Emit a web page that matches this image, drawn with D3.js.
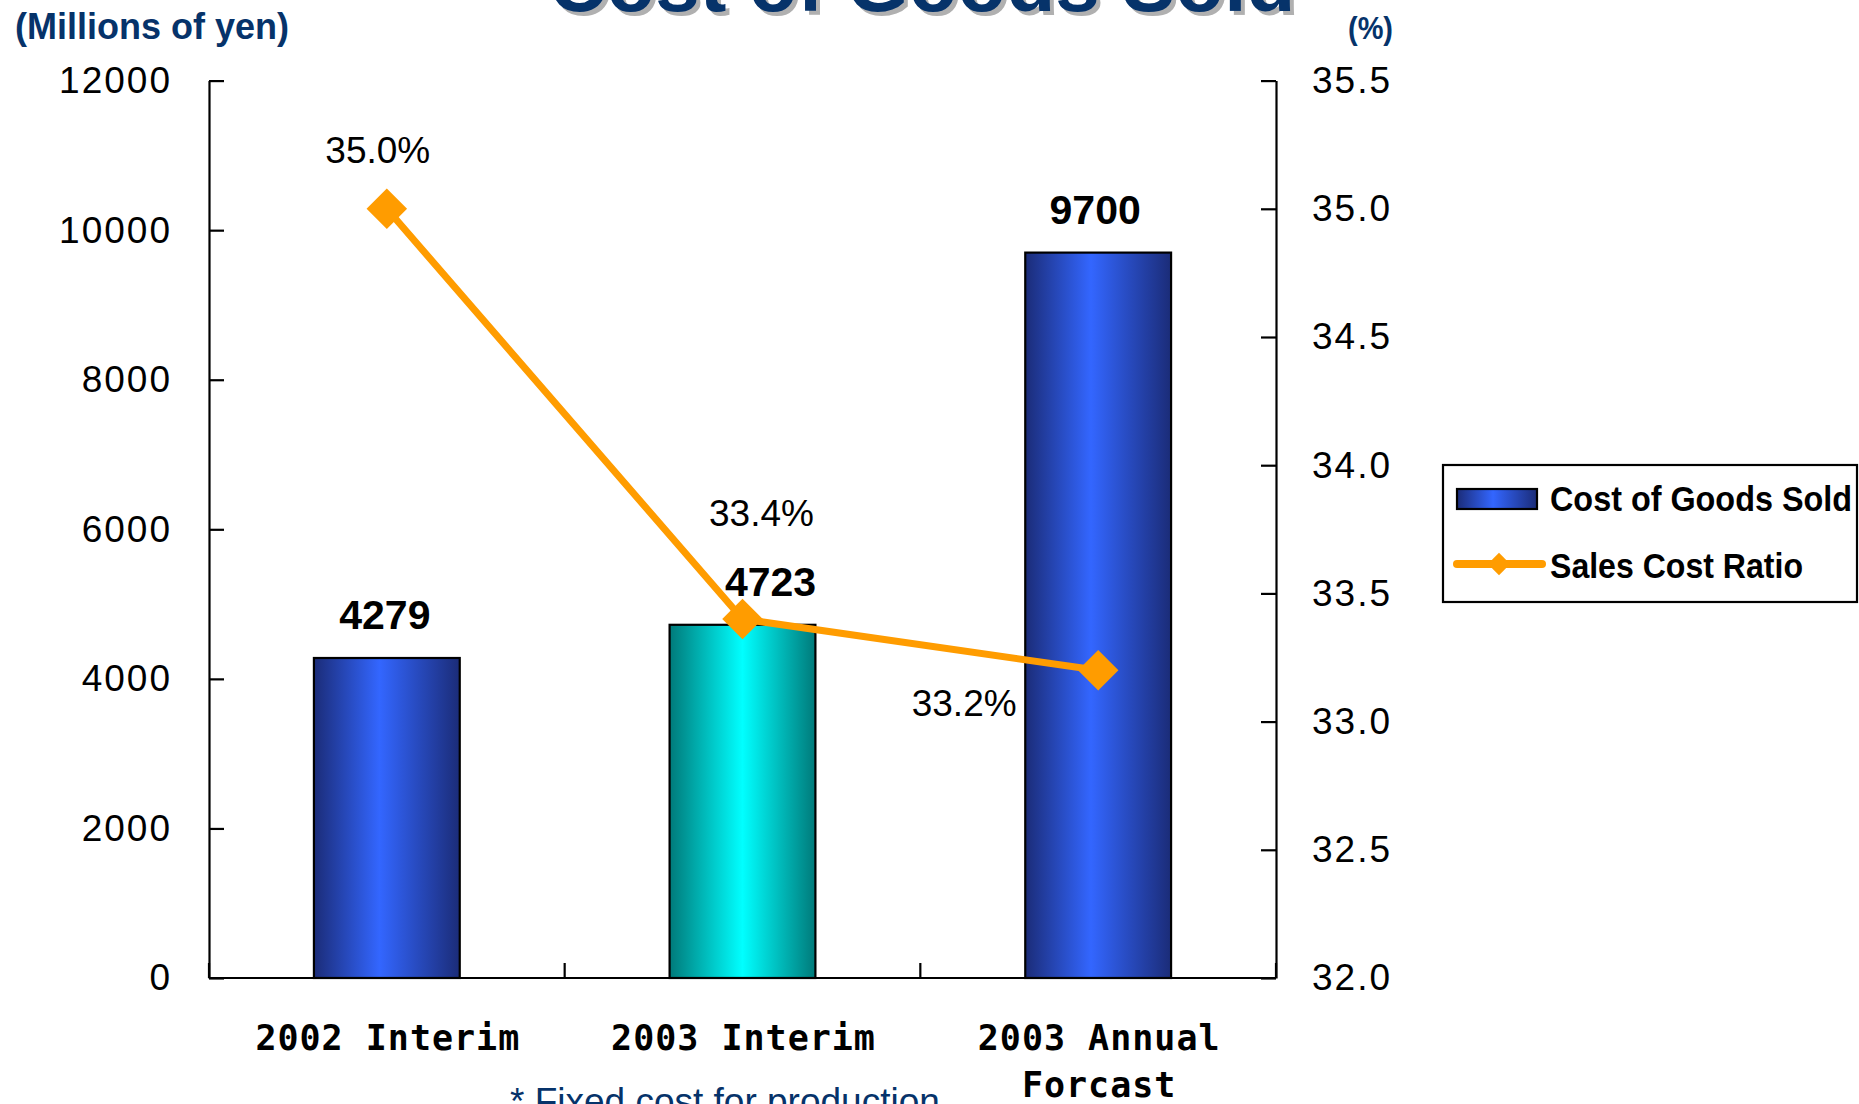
<!DOCTYPE html>
<html>
<head>
<meta charset="utf-8">
<script src="https://cdn.jsdelivr.net/npm/d3@7/dist/d3.min.js"></script>
<style>
  html, body { margin: 0; padding: 0; background: #ffffff; }
  svg { display: block; font-family: "Liberation Sans", Arial, sans-serif; }
</style>
</head>
<body>
<svg id="chart" width="1859" height="1104"></svg>
<script>
// ---------------- data ----------------
const categories = ["2002 Interim", "2003 Interim", "2003 Annual Forcast"];
const categoryLines = [["2002 Interim"], ["2003 Interim"], ["2003 Annual", "Forcast"]];
const costOfGoodsSold = [4279, 4723, 9700];
const salesCostRatio = [35.0, 33.4, 33.2];
const leftTicks = [0, 2000, 4000, 6000, 8000, 10000, 12000];
const rightTicks = [32.0, 32.5, 33.0, 33.5, 34.0, 34.5, 35.0, 35.5];
const seriesNames = ["Cost of Goods Sold", "Sales Cost Ratio"];
const highlightedCategory = "2003 Interim";
const titleText = "Cost of Goods Sold";
const leftUnit = "(Millions of yen)";
const rightUnit = "(%)";
const footnote = "* Fixed cost for production";

// ---------------- layout ----------------
const svg = d3.select("#chart");
const plot = { left: 209, right: 1276, top: 80.6, bottom: 978 };
const navy = "#06336a";
const orange = "#ff9c00";
const sans = "'Liberation Sans', Arial, sans-serif";
const mono = "'DejaVu Sans Mono', 'Liberation Mono', monospace";

const x = d3.scaleBand().domain(categories).range([plot.left, plot.right]).padding(0);
const barFrac = 0.41;
const yL = d3.scaleLinear().domain([0, 12000]).range([plot.bottom, plot.top]);
const yR = d3.scaleLinear().domain([32.0, 35.5]).range([plot.bottom, plot.top]);

// gradients
const defs = svg.append("defs");
function grad(id, edge, mid, midPos) {
  const g = defs.append("linearGradient").attr("id", id)
    .attr("x1", "0%").attr("x2", "100%").attr("y1", "0%").attr("y2", "0%");
  g.append("stop").attr("offset", "0%").attr("stop-color", edge);
  g.append("stop").attr("offset", midPos).attr("stop-color", mid);
  g.append("stop").attr("offset", "100%").attr("stop-color", edge);
}
grad("gBlue", "#1b2c78", "#3366ff", "45%");
grad("gCyan", "#007a7a", "#00ffff", "50%");

// ---------------- title & units ----------------
svg.append("text").attr("x", 926).attr("y", 15)
  .attr("text-anchor", "middle").attr("font-size", 80).attr("font-weight", "bold")
  .attr("fill", "#b0b0b0").text(titleText);
svg.append("text").attr("x", 922).attr("y", 11)
  .attr("text-anchor", "middle").attr("font-size", 80).attr("font-weight", "bold")
  .attr("fill", navy).text(titleText);

svg.append("text").attr("x", 15).attr("y", 39)
  .attr("font-size", 36).attr("font-weight", "bold").attr("fill", navy).text(leftUnit);
svg.append("text").attr("x", 1348).attr("y", 39)
  .attr("font-size", 32).attr("font-weight", "bold").attr("fill", navy)
  .attr("textLength", 45).attr("lengthAdjust", "spacingAndGlyphs").text(rightUnit);

// ---------------- bars ----------------
const bw = x.bandwidth() * barFrac;
svg.append("g").selectAll("rect").data(categories).join("rect")
  .attr("x", d => x(d) + (x.bandwidth() - bw) / 2)
  .attr("width", bw)
  .attr("y", (d, i) => yL(costOfGoodsSold[i]))
  .attr("height", (d, i) => yL(0) - yL(costOfGoodsSold[i]))
  .attr("fill", d => d === highlightedCategory ? "url(#gCyan)" : "url(#gBlue)")
  .attr("stroke", "#000").attr("stroke-width", 2.2);

// bar value labels
const barLabelShift = [-2, 28, -3];
svg.append("g").selectAll("text").data(categories).join("text")
  .attr("x", (d, i) => x(d) + x.bandwidth() / 2 + barLabelShift[i])
  .attr("y", (d, i) => yL(costOfGoodsSold[i]) - 29)
  .attr("text-anchor", "middle").attr("font-size", 41).attr("font-weight", "bold")
  .attr("fill", "#000").text((d, i) => costOfGoodsSold[i]);

// ---------------- axes ----------------
const axL = svg.append("g").attr("transform", `translate(${plot.left},0)`)
  .call(d3.axisLeft(yL).tickValues(leftTicks).tickSize(-15).tickSizeOuter(0).tickPadding(37).tickFormat(d3.format("d")));
const axR = svg.append("g").attr("transform", `translate(${plot.right},0)`)
  .call(d3.axisRight(yR).tickValues(rightTicks).tickSize(-15).tickSizeOuter(0).tickPadding(36).tickFormat(d3.format(".1f")));
[axL, axR].forEach(a => {
  a.attr("font-family", null).attr("font-size", null);
  a.select(".domain").attr("stroke", "#000").attr("stroke-width", 2.2);
  a.selectAll(".tick line").attr("stroke", "#000").attr("stroke-width", 2.2);
  a.selectAll(".tick text").style("font-family", sans)
    .style("font-size", "37px").attr("fill", "#000").attr("letter-spacing", 2);
});

// x axis baseline and boundary ticks
const xAxisG = svg.append("g");
xAxisG.append("line").attr("x1", plot.left).attr("x2", plot.right)
  .attr("y1", yL(0)).attr("y2", yL(0)).attr("stroke", "#000").attr("stroke-width", 2.2);
const bounds = categories.map(c => x(c)).concat([x.range()[1]]);
xAxisG.selectAll("line.b").data(bounds).join("line").attr("class", "b")
  .attr("x1", d => d).attr("x2", d => d)
  .attr("y1", yL(0)).attr("y2", yL(0) - 15)
  .attr("stroke", "#000").attr("stroke-width", 2.2);

// category labels
const catG = svg.append("g");
categories.forEach((c, i) => {
  const t = catG.append("text")
    .attr("text-anchor", "middle")
    .style("font-family", mono)
    .style("font-size", "35px").style("font-weight", "bold").style("letter-spacing", "1px")
    .attr("fill", "#000");
  categoryLines[i].forEach((ln, j) => {
    t.append("tspan").attr("x", x(c) + x.bandwidth() / 2 + 1)
      .attr("y", yL(0) + 72 + j * 47).text(ln);
  });
});

// footnote
svg.append("text").attr("x", 510).attr("y", 1114)
  .attr("font-size", 37).attr("fill", navy).text(footnote);

// ---------------- line ----------------
const pts = categories.map((c, i) => [x(c) + x.bandwidth() / 2, yR(salesCostRatio[i])]);
svg.append("path").datum(pts)
  .attr("d", d3.line())
  .attr("fill", "none").attr("stroke", orange).attr("stroke-width", 7)
  .attr("stroke-linejoin", "round");
svg.append("g").selectAll("path").data(pts).join("path")
  .attr("transform", d => `translate(${d[0]},${d[1]}) rotate(45)`)
  .attr("d", d3.symbol(d3.symbolSquare, 820))
  .attr("fill", orange);

// ratio labels
const ratioOffsets = [[-9, -46], [19, -93], [-134, 46]];
svg.append("g").selectAll("text").data(pts).join("text")
  .attr("x", (d, i) => d[0] + ratioOffsets[i][0])
  .attr("y", (d, i) => d[1] + ratioOffsets[i][1])
  .attr("text-anchor", "middle").attr("font-size", 37).attr("fill", "#000")
  .text((d, i) => d3.format(".1f")(salesCostRatio[i]) + "%");

// ---------------- legend ----------------
const lg = svg.append("g");
lg.append("rect").attr("x", 1443).attr("y", 465).attr("width", 414).attr("height", 137)
  .attr("fill", "#fff").attr("stroke", "#000").attr("stroke-width", 2.2);
lg.append("rect").attr("x", 1457).attr("y", 489).attr("width", 80).attr("height", 20)
  .attr("fill", "url(#gBlue)").attr("stroke", "#000").attr("stroke-width", 2.2);
lg.append("text").attr("x", 1550).attr("y", 511)
  .attr("font-size", 35).attr("font-weight", "bold").attr("fill", "#000")
  .attr("textLength", 302).attr("lengthAdjust", "spacingAndGlyphs").text(seriesNames[0]);
lg.append("line").attr("x1", 1457).attr("x2", 1542).attr("y1", 564).attr("y2", 564)
  .attr("stroke", orange).attr("stroke-width", 8).attr("stroke-linecap", "round");
lg.append("path").attr("transform", "translate(1499,564) rotate(45)")
  .attr("d", d3.symbol(d3.symbolSquare, 250)).attr("fill", orange);
lg.append("text").attr("x", 1550).attr("y", 578)
  .attr("font-size", 35).attr("font-weight", "bold").attr("fill", "#000")
  .attr("textLength", 253).attr("lengthAdjust", "spacingAndGlyphs").text(seriesNames[1]);
</script>
</body>
</html>
